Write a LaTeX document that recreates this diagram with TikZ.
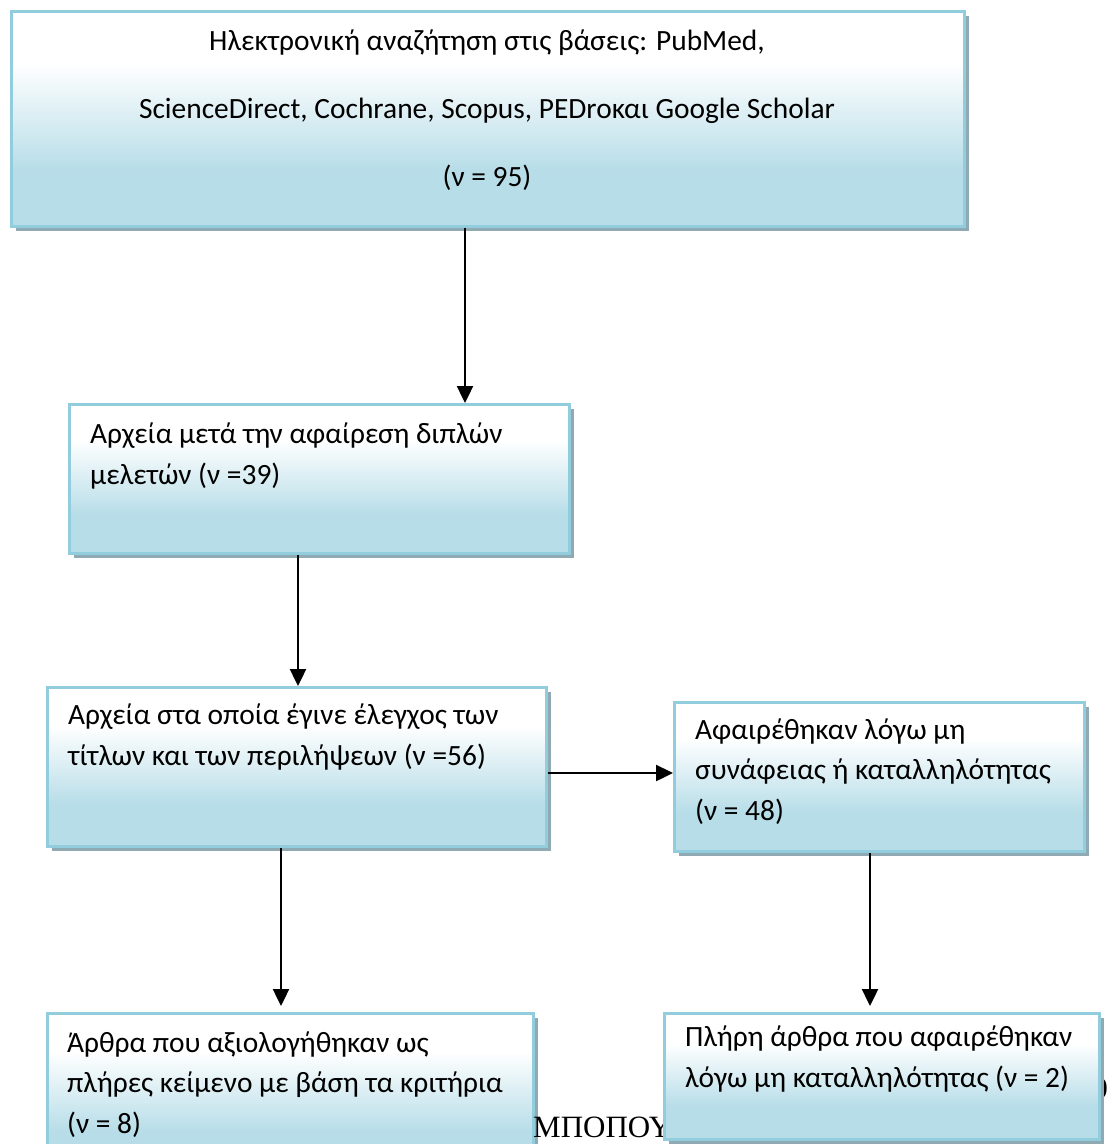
\documentclass[tikz,border=0pt]{standalone}
\usepackage{fontspec}
\setmainfont{Carlito}
\newfontfamily\timesgr{Liberation Serif}
\usetikzlibrary{shadows,arrows.meta}
\definecolor{boxblue}{RGB}{183,221,232}
\definecolor{boxedge}{RGB}{146,205,221}
\definecolor{shadowc}{RGB}{143,170,178}
\pgfdeclareverticalshading{wordgrad}{100bp}{color(0bp)=(boxblue); color(25bp)=(boxblue); color(38bp)=(boxblue); color(63bp)=(white); color(75bp)=(white); color(100bp)=(white)}
\begin{document}
\begin{tikzpicture}[x=1pt,y=-1pt,
  box/.style={draw=boxedge, line width=2.5pt, shading=wordgrad, anchor=north west, inner sep=0pt,
    drop shadow={shadow xshift=4.5pt, shadow yshift=-4.5pt, fill=shadowc, opacity=1}},
  txt/.style={inner sep=0pt, anchor=base west, align=left, font=\fontsize{29.4}{40.5}\selectfont},
  arr/.style={line width=2.4pt, -{Triangle[length=17pt,width=16pt]}}]
\useasboundingbox (0,0) rectangle (1115,1144);
\clip (0,0) rectangle (1115,1144);
\node[box, minimum width=953pt, minimum height=215pt] (b1) at (10,10) {};
\node[box, minimum width=500pt, minimum height=149pt] (b2) at (68,403) {};
\node[box, minimum width=499pt, minimum height=159pt] (b3) at (46,686) {};
\node[box, minimum width=410pt, minimum height=149pt] (b4) at (673,701) {};
\node[box, minimum width=486pt, minimum height=160pt] (b5) at (46,1012) {};
\node[inner sep=0pt, anchor=base west, font=\timesgr\fontsize{31}{31}\selectfont] (mp) at (533,1137) {ΜΠΟΠΟΥ};
\node[inner sep=0pt, anchor=base east, font=\timesgr\fontsize{30}{30}\selectfont] (pg) at (1108,1098) {0};
\node[box, minimum width=435pt, minimum height=126pt] (b6) at (663,1012) {};

% base anchor of a multi-line node = baseline of its last line
\node[txt, anchor=base, align=center, font=\fontsize{29.4}{68}\selectfont] (t1) at (487,186)
  {Ηλεκτρονική αναζήτηση στις βάσεις: PubMed,\\ScienceDirect, Cochrane, Scopus, PEDroκαι Google Scholar\\(ν = 95)};
\node[txt] (t2) at (90,484) {Αρχεία μετά την αφαίρεση διπλών\\μελετών (ν =39)};
\node[txt] (t3) at (68,765) {Αρχεία στα οποία έγινε έλεγχος των\\τίτλων και των περιλήψεων (ν =56)};
\node[txt] (t4) at (695,820) {Αφαιρέθηκαν λόγω μη\\συνάφειας ή καταλληλότητας\\(ν = 48)};
\node[txt] (t5) at (67,1133) {Άρθρα που αξιολογήθηκαν ως\\πλήρες κείμενο με βάση τα κριτήρια\\(ν = 8)};
\node[txt] (t6) at (685,1087) {Πλήρη άρθρα που αφαιρέθηκαν\\λόγω μη καταλληλότητας (ν = 2)};

\draw[arr] (b1.south -| 465,0) -- (b2.north -| 465,0);
\draw[arr] (b2.south -| 298,0) -- (b3.north -| 298,0);
\draw[arr] (b3.east |- 0,773) -- (b4.west |- 0,773);
\draw[arr, shorten >=6pt] (b3.south -| 281,0) -- (b5.north -| 281,0);
\draw[arr, shorten >=6pt] (b4.south -| 870,0) -- (b6.north -| 870,0);
\end{tikzpicture}
\end{document}
